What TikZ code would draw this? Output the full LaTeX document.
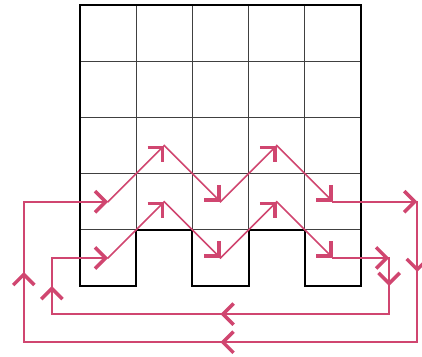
\documentclass[tikz,border=0pt]{standalone}
\usetikzlibrary{arrows.meta,decorations.markings}
\definecolor{routered}{RGB}{208,70,112}

\begin{document}
\begin{tikzpicture}[x=56.2pt, y=-56.2pt,
    route/.style={routered, line width=1.6pt, line cap=rect},
    endtip/.style={-{Straight Barb[angle=90:15pt, line width=3.5pt]}},
    midtip/.style={postaction={decorate}, decoration={markings,
        mark=at position 0.5 with {\arrow{Straight Barb[angle=90:15pt, line width=3.5pt]}}}}]
    \useasboundingbox (-1.4235,-0.089) rectangle (6.085,6.246);
    % inner grid lines
    \foreach \x in {1,...,4}
        \draw[black!75, line width=1pt] (\x,0) -- (\x,4);
    \foreach \y in {1,2,3}
        \draw[black!75, line width=1pt] (0,\y) -- (5,\y);
    \foreach \x in {0,2,4}
        \draw[black!75, line width=1pt] (\x,4) -- (\x+1,4);
    % outline with the two notches
    \draw[line width=2pt, line join=miter] (0,0) -- (5,0) -- (5,5) -- (4,5) -- (4,4) -- (3,4)
        -- (3,5) -- (2,5) -- (2,4) -- (1,4) -- (1,5) -- (0,5) -- cycle;
    % upper route
    \coordinate (a0) at (-1,3.5);
    \coordinate (a1) at (0.5,3.5);
    \coordinate (a2) at (1.5,2.5);
    \coordinate (a3) at (2.5,3.5);
    \coordinate (a4) at (3.5,2.5);
    \coordinate (a5) at (4.5,3.5);
    \coordinate (a6) at (6,3.5);
    \coordinate (a7) at (6,6);
    \coordinate (a8) at (-1,6);
    % lower route
    \coordinate (b0) at (-0.5,4.5);
    \coordinate (b1) at (0.5,4.5);
    \coordinate (b2) at (1.5,3.5);
    \coordinate (b3) at (2.5,4.5);
    \coordinate (b4) at (3.5,3.5);
    \coordinate (b5) at (4.5,4.5);
    \coordinate (b6) at (5.5,4.5);
    \coordinate (b7) at (5.5,5.5);
    \coordinate (b8) at (-0.5,5.5);
    \foreach \r in {a,b} {
        \foreach \i/\j in {0/1,1/2,2/3,3/4,4/5,5/6}
            \draw[route, endtip] (\r\i) -- (\r\j);
        \foreach \i/\j in {6/7,7/8,8/0}
            \draw[route, midtip] (\r\i) -- (\r\j);
    }
\end{tikzpicture}
\end{document}
